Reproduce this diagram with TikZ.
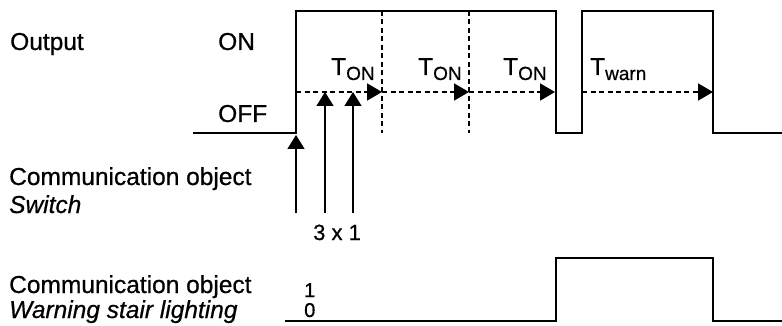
\documentclass[tikz,border=0pt]{standalone}
\usepackage{fontspec}
\setmainfont{Liberation Sans}[FakeBold=0.6, ItalicFeatures={FakeBold=0.6}]
\usetikzlibrary{arrows.meta}
\begin{document}
\begin{tikzpicture}[x=1pt,y=-1pt,
  sig/.style={line width=2pt, line join=miter},
  lbl/.style={anchor=base west, inner sep=0pt, font=\fontsize{24.5}{24.5}\selectfont},
  small/.style={anchor=base west, inner sep=0pt, font=\fontsize{22}{22}\selectfont},
  digit/.style={anchor=base west, inner sep=0pt, font=\fontsize{20}{20}\selectfont},
  dashline/.style={line width=1.8pt, dash pattern=on 5pt off 3.5pt},
  tarrow/.style={dashline, -{Triangle[length=15pt,width=17pt]}},
  uparrow/.style={line width=1.4pt, -{Triangle[length=14pt,width=17pt]}}]
\useasboundingbox (0,0) rectangle (782,326);
\newcommand{\Tsub}[1]{T\raisebox{-5pt}{\fontsize{19}{19}\selectfont #1}}
% output signal
\draw[sig] (193,133) -- (296,133) -- (296,11) -- (556,11) -- (556,133) -- (582,133) -- (582,11) -- (713,11) -- (713,133) -- (782,133);
% dashed separators
\draw[dashline] (382,11) -- (382,133);
\draw[dashline] (469,11) -- (469,133);
% time arrows
\coordinate (a0) at (296,92);
\coordinate (a1) at (382,92);
\coordinate (a2) at (469,92);
\coordinate (a3) at (555,92);
\coordinate (b0) at (582,92);
\coordinate (b1) at (713,92);
\draw[tarrow] (a0) -- (a1);
\draw[tarrow] (a1) -- (a2);
\draw[tarrow] (a2) -- (a3);
\draw[tarrow] (b0) -- (b1);
% telegram arrows
\coordinate (s1) at (296,213);
\coordinate (s2) at (325,213);
\coordinate (s3) at (353,213);
\coordinate (e1) at (296,135);
\coordinate (e2) at (325,92);
\coordinate (e3) at (353,92);
\draw[uparrow] (s1) -- (e1);
\draw[uparrow] (s2) -- (e2);
\draw[uparrow] (s3) -- (e3);
% warning signal
\draw[sig] (285,321) -- (556,321) -- (556,258) -- (713,258) -- (713,321) -- (782,321);
% labels
\node[lbl] (out) at (10,50) {Output};
\node[lbl] (on) at (218,50) {ON};
\node[lbl] (off) at (218,122) {OFF};
\node[lbl] (co1) at (9,185) {Communication object};
\node[lbl] (sw) at (9,213) {\itshape Switch};
\node[lbl] (co2) at (9,293) {Communication object};
\node[lbl] (wsl) at (9,318) {\itshape Warning stair lighting};
\node[lbl] (t1) at (331,75) {\Tsub{ON}};
\node[lbl] (t2) at (418,75) {\Tsub{ON}};
\node[lbl] (t3) at (503,75) {\Tsub{ON}};
\node[lbl] (tw) at (590,75) {\Tsub{warn}};
\node[small] (x31) at (313,240) {3 x 1};
\node[digit] (one) at (304,297) {1};
\node[digit] (zero) at (304,317) {0};
\end{tikzpicture}
\end{document}
